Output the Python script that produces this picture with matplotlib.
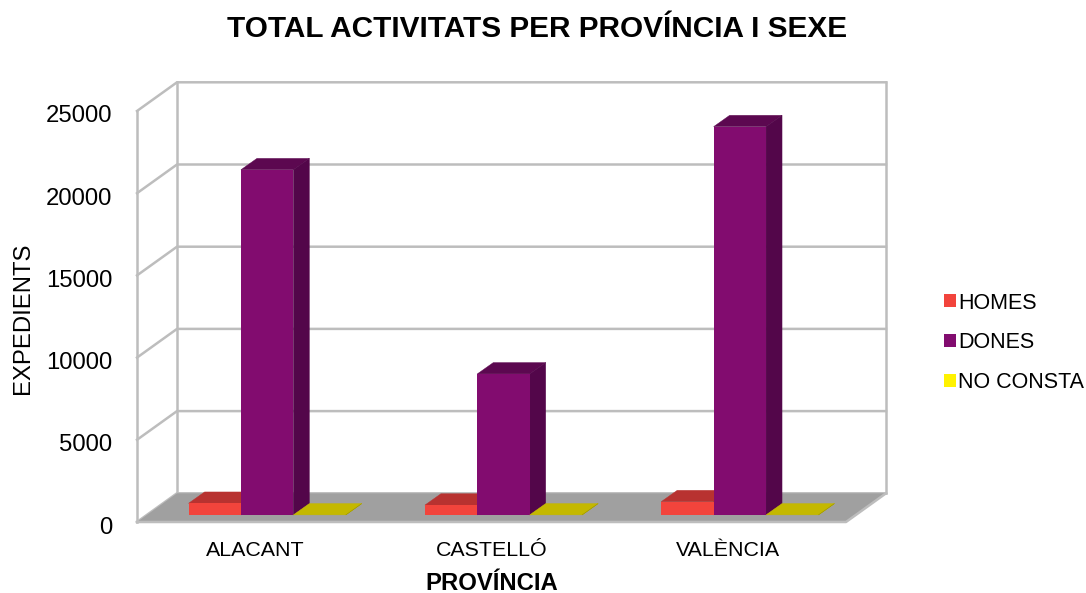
import matplotlib
matplotlib.use("Agg")
import matplotlib.pyplot as plt
from matplotlib.patches import Patch, Polygon
from matplotlib.transforms import ScaledTranslation
import numpy as np

plt.rcParams['font.family'] = ['Liberation Sans', 'DejaVu Sans']

provinces = ["ALACANT", "CASTELLÓ", "VALÈNCIA"]
series_names = ["HOMES", "DONES", "NO CONSTA"]
homes = [710, 600, 810]
dones = [21000, 8580, 23620]
no_consta = [5, 5, 5]
y_ticks = [0, 5000, 10000, 15000, 20000, 25000]

W, H = 1086, 593
# front plane of the fake 3D box, in pixels
left, right, bottom, top = 137, 846, 522, 111

# colours: front, side, top
palette = [
    ("#F2443C", "#A82C28", "#B83230"),
    ("#820C6F", "#53064A", "#5C0850"),
    ("#FFF200", "#A8A000", "#C4B800"),
]
grid_color = "#BDBDBD"

fig = plt.figure(figsize=(W / 100, H / 100), dpi=100)
ax = fig.add_axes([left / W, 1 - bottom / H, (right - left) / W, (bottom - top) / H])
ax.set_xlim(0, len(provinces))
ax.set_ylim(0, 25000)

# depth of the box in data units (40 px across, 28.7 px up)
depth_x = 40 * len(provinces) / (right - left)
depth_y = 28.7 * 25000 / (bottom - top)


def poly(points, color, z, edge="none", lw=0):
    ax.add_patch(Polygon(points, closed=True, facecolor=color, edgecolor=edge,
                         linewidth=lw, zorder=z, clip_on=False))


def line(xs, ys, z=1):
    ax.plot(xs, ys, color=grid_color, lw=1.8, zorder=z, clip_on=False, solid_capstyle="projecting")


def box(x0, x1, value, colors, z):
    # bar sits in the middle of the depth
    fx, fy = 0.3 * depth_x, 0.245 * depth_y
    bx, by = 0.7 * depth_x, 0.64 * depth_y
    poly([(x0 + fx, value + fy), (x1 + fx, value + fy), (x1 + bx, value + by), (x0 + bx, value + by)],
         colors[2], z, colors[2], 0.3)
    poly([(x1 + fx, fy), (x1 + bx, by), (x1 + bx, value + by), (x1 + fx, value + fy)],
         colors[1], z, colors[1], 0.3)
    poly([(x0 + fx, fy), (x1 + fx, fy), (x1 + fx, value + fy), (x0 + fx, value + fy)], colors[0], z + 0.1)


# walls and gridlines
n = len(provinces)
for t in y_ticks:
    line([0, depth_x, n + depth_x], [t, t + depth_y, t + depth_y])
line([0, 0], [0, 25000])
line([depth_x, depth_x], [depth_y, 25000 + depth_y])
line([n + depth_x, n + depth_x], [depth_y, 25000 + depth_y])

# floor
poly([(0, 0), (n, 0), (n + depth_x, depth_y), (depth_x, depth_y)], "#A0A0A0", 2)
line([0, n, n + depth_x], [0, 0, depth_y], z=2.5)

# bars
bar_w = 52.4 * n / (right - left)
for i in range(n):
    x0 = i + 0.5 - 1.5 * bar_w
    for j, values in enumerate([homes, dones, no_consta]):
        box(x0 + j * bar_w, x0 + (j + 1) * bar_w, values[i], palette[j], 3 + i + j * 0.2)

ax.set_xticks(np.arange(n) + 0.5, provinces, fontsize=15.4)
ax.set_yticks(y_ticks, [str(t) for t in y_ticks], fontsize=17.2)
ax.tick_params(length=0)
ax.tick_params(axis="x", pad=14)
ax.tick_params(axis="y", pad=17.8)
shift = ScaledTranslation(0, -3 / 100, fig.dpi_scale_trans)
for lab in ax.get_yticklabels():
    lab.set_transform(lab.get_transform() + shift)
for s in ax.spines.values():
    s.set_visible(False)
ax.patch.set_visible(False)

fig.text(537.5 / W, 1 - 29 / H, "TOTAL ACTIVITATS PER PROVÍNCIA I SEXE", fontsize=21.4, fontweight="bold",
         ha="center", va="center")
fig.text(492 / W, 1 - 583.5 / H, "PROVÍNCIA", fontsize=17.2, fontweight="bold", ha="center", va="center")
fig.text(23 / W, 1 - 318 / H, "EXPEDIENTS", fontsize=17.2, rotation=90, ha="center", va="center")

handles = [Patch(facecolor=palette[k][0], edgecolor="none") for k in range(3)]
fig.legend(handles, series_names, loc="center left", bbox_to_anchor=(944 / W, 1 - 343 / H),
           frameon=False, fontsize=15.5, borderpad=0, borderaxespad=0, handlelength=0.55,
           handleheight=0.55, handletextpad=0.12, labelspacing=0.88)

fig.savefig("out.png", dpi=100)
